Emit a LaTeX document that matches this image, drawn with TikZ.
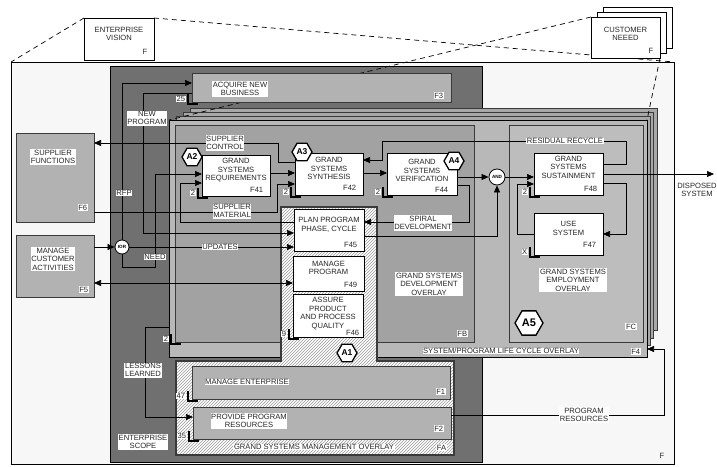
\documentclass[tikz,border=0pt]{standalone}
\usepackage{fontspec}
\setmainfont{Liberation Sans}
\usetikzlibrary{arrows.meta,shapes.geometric,patterns,positioning}
\definecolor{ScopeGray}{HTML}{707070}
\definecolor{StripeGray}{HTML}{B2B2B2}
\definecolor{LayerGray}{HTML}{A8A8A8}
\definecolor{LifeGray}{HTML}{B8B8B8}
\definecolor{DevGray}{HTML}{A2A2A2}
\definecolor{UseGray}{HTML}{BDBDBD}
\definecolor{FrameGray}{HTML}{F7F7F7}
\definecolor{EdgeGray}{HTML}{3A3A3A}
\newcommand{\txtsize}{\fontsize{7.6}{8.5}\selectfont}
\tikzset{
  corner/.style={draw, anchor=north west, inner sep=0pt, outer sep=0pt},
  wbox/.style={corner, fill=white, line width=0.8pt},
  sbox/.style={corner, fill=StripeGray, draw=EdgeGray, line width=0.8pt},
  lbl/.style={fill=white, inner sep=0.6pt, align=center, font=\txtsize, text=black!85},
  fno/.style={lbl, anchor=south east},
  hexa/.style={regular polygon, regular polygon sides=6, draw, line width=1.3pt, fill=white,
    inner sep=0pt, minimum size=20pt, font=\bfseries\fontsize{8.5}{8.5}\selectfont},
  junc/.style={circle, draw, fill=white, inner sep=0pt, line width=0.8pt,
    font=\bfseries\fontsize{4.6}{5}\selectfont},
  flow/.style={draw, line width=0.7pt},
  arr/.style={flow, -{Triangle[length=7pt,width=6pt]}},
  darr/.style={flow, {Triangle[length=7pt,width=6pt]}-{Triangle[length=7pt,width=6pt]}},
  vis/.style={dash pattern=on 5pt off 4pt, line width=0.7pt},
}
\newcommand{\cornermark}[2]{%
  \draw[line width=1.4pt] ([xshift=-4pt,yshift=8pt]#1.south west) |- ([xshift=6pt,yshift=-2pt]#1.south west);
  \node[lbl, anchor=east] (#1mark) at ([xshift=-6pt,yshift=3pt]#1.south west) {#2};}
\begin{document}
\begin{tikzpicture}[x=1pt,y=-1pt]
\useasboundingbox (0,0) rectangle (717,466);
% outer frame, vision and need
\node[corner, fill=FrameGray, line width=0.7pt, minimum width=663pt, minimum height=402pt] (F) at (11,62) {};
\node[lbl, fill=none] (Fno) at (662,456) {F};
\node[wbox, line width=0.7pt, minimum width=70pt, minimum height=42pt] (EV) at (84,18) {};
\node[lbl, anchor=north] (EVlab) at ([yshift=-8pt]EV.north) {ENTERPRISE\\VISION};
\node[fno] (EVno) at ([xshift=-6pt,yshift=5pt]EV.south east) {F};
\draw[vis] (EV.north west) -- (F.north west);
\draw[vis] (EV.north east) -- (F.north east);
\node[wbox, line width=0.7pt, minimum width=69pt, minimum height=41pt] (CN3) at (603,7) {};
\node[wbox, line width=0.7pt, minimum width=69pt, minimum height=41pt] (CN2) at (597,12) {};
\node[wbox, line width=0.7pt, minimum width=69pt, minimum height=41pt] (CN) at (591,17) {};
\node[lbl, anchor=north] (CNlab) at ([yshift=-9pt]CN.north) {CUSTOMER\\NEEED};
\node[fno] (CNno) at ([xshift=-6pt,yshift=4pt]CN.south east) {F};
% enterprise scope
\node[corner, fill=ScopeGray, line width=0.8pt, minimum width=372pt, minimum height=396pt] (ES) at (110,66) {};
% life cycle layers
\node[corner, fill=LayerGray, draw=EdgeGray, line width=0.7pt, minimum width=467pt, minimum height=222pt] (F4c) at (190,108) {};
\node[corner, fill=LayerGray, draw=EdgeGray, line width=0.7pt, minimum width=470pt, minimum height=226pt] (F4b) at (183,112) {};
\node[corner, fill=LayerGray, draw=EdgeGray, line width=0.7pt, minimum width=474pt, minimum height=229pt] (F4a) at (176,116) {};
\node[corner, fill=LifeGray, draw=black, line width=0.8pt, minimum width=478pt, minimum height=237pt] (F4) at (169,120) {};
\draw[vis] (CN.north west) -- (F4.north west);
\draw[vis] (CN.south east) -- (F4.north east);
\node[lbl] (F4lab) at (501,351) {SYSTEM/PROGRAM LIFE CYCLE OVERLAY};
\node[fno] (F4no) at ([xshift=-6pt,yshift=2pt]F4.south east) {F4};
\node[corner, fill=DevGray, draw=EdgeGray, line width=0.8pt, minimum width=299pt, minimum height=217pt] (FB) at (175,125) {};
\node[corner, fill=UseGray, draw=EdgeGray, line width=0.8pt, minimum width=134pt, minimum height=217pt] (FC) at (509,125) {};
\node[lbl] (FBlab) at (429,284) {GRAND SYSTEMS\\DEVELOPMENT\\OVERLAY};
\node[fno] (FBno) at ([xshift=-6pt,yshift=5pt]FB.south east) {FB};
\node[lbl] (FClab) at (573,280) {GRAND SYSTEMS\\EMPLOYMENT\\OVERLAY};
\node[fno] (FCno) at ([xshift=-6pt,yshift=12pt]FC.south east) {FC};
\cornermark{FB}{2}
% acquire new business
\node[sbox, minimum width=259pt, minimum height=29pt] (F3) at (192,73) {};
\node[lbl] (F3lab) at (240,89) {ACQUIRE NEW\\BUSINESS};
\node[fno] (F3no) at ([xshift=-7pt,yshift=3pt]F3.south east) {F3};
\cornermark{F3}{25}
% management overlay
\draw[draw=EdgeGray, line width=1.2pt, preaction={fill=white}, pattern=north east lines, pattern color=black!40]
  (281,207) -- (377,207) -- (377,361) -- (454,361) -- (454,455) -- (176,455) -- (176,361) -- (281,361) -- cycle;
\node[sbox, minimum width=258pt, minimum height=33pt] (F1) at (192,366) {};
\node[lbl] (F1lab) at (247,382) {MANAGE ENTERPRISE};
\node[fno] (F1no) at ([xshift=-4pt,yshift=4pt]F1.south east) {F1};
\cornermark{F1}{47}
\node[sbox, minimum width=258pt, minimum height=32pt] (F2) at (193,407) {};
\node[lbl] (F2lab) at (249,421) {PROVIDE PROGRAM\\RESOURCES};
\node[fno] (F2no) at ([xshift=-7pt,yshift=7pt]F2.south east) {F2};
\cornermark{F2}{35}
\node[lbl] (FAlab) at (314,447) {GRAND SYSTEMS MANAGEMENT OVERLAY};
\node[fno] (FAno) at (447,451) {FA};
% outside functions
\node[sbox, minimum width=78pt, minimum height=89pt] (F6) at (16,133) {};
\node[lbl] (F6lab) at (53,157) {SUPPLIER\\FUNCTIONS};
\node[fno] (F6no) at ([xshift=-6pt,yshift=11pt]F6.south east) {F6};
\node[sbox, minimum width=78pt, minimum height=62pt] (F5) at (16,235) {};
\node[lbl] (F5lab) at (53,259) {MANAGE\\CUSTOMER\\ACTIVITIES};
\node[fno] (F5no) at ([xshift=-5pt,yshift=4pt]F5.south east) {F5};
% activity boxes
\node[wbox, minimum width=68pt, minimum height=41pt] (F41) at (202,155) {};
\node[lbl, anchor=north] (F41lab) at ([yshift=-2.5pt]F41.north) {GRAND\\SYSTEMS\\REQUIREMENTS};
\node[fno] (F41no) at ([xshift=-6pt,yshift=3pt]F41.south east) {F41};
\cornermark{F41}{2}
\node[wbox, minimum width=68pt, minimum height=42pt] (F42) at (295,153) {};
\node[lbl, anchor=north] (F42lab) at ([yshift=-3.5pt]F42.north) {GRAND\\SYSTEMS\\SYNTHESIS};
\node[fno] (F42no) at ([xshift=-6pt,yshift=4pt]F42.south east) {F42};
\cornermark{F42}{2}
\node[wbox, minimum width=70pt, minimum height=42pt] (F44) at (387,153) {};
\node[lbl, anchor=north] (F44lab) at ([yshift=-5.5pt]F44.north) {GRAND\\SYSTEMS\\VERIFICATION};
\node[fno] (F44no) at ([xshift=-8pt,yshift=2pt]F44.south east) {F44};
\cornermark{F44}{2}
\node[wbox, minimum width=70pt, minimum height=42pt] (F45) at (294,209) {};
\node[lbl, anchor=north] (F45lab) at ([yshift=-7.5pt]F45.north) {PLAN PROGRAM\\PHASE, CYCLE};
\node[fno] (F45no) at ([xshift=-6pt,yshift=3pt]F45.south east) {F45};
\node[wbox, minimum width=71pt, minimum height=35pt] (F49) at (293,256) {};
\node[lbl, anchor=north] (F49lab) at ([yshift=-4pt]F49.north) {MANAGE\\PROGRAM};
\node[fno] (F49no) at ([xshift=-6pt,yshift=3pt]F49.south east) {F49};
\node[wbox, minimum width=70pt, minimum height=43pt] (F46) at (293,294) {};
\node[lbl, anchor=north] (F46lab) at ([yshift=-2.5pt]F46.north) {ASSURE\\PRODUCT\\AND PROCESS\\QUALITY};
\node[fno] (F46no) at ([xshift=-3pt,yshift=1pt]F46.south east) {F46};
\cornermark{F46}{9}
\node[wbox, minimum width=69pt, minimum height=42pt] (F48) at (534,153) {};
\node[lbl, anchor=north] (F48lab) at ([yshift=-2pt]F48.north) {GRAND\\SYSTEMS\\SUSTAINMENT};
\node[fno] (F48no) at ([xshift=-5pt,yshift=3pt]F48.south east) {F48};
\cornermark{F48}{2}
\node[wbox, minimum width=69pt, minimum height=42pt] (F47) at (534,213) {};
\node[lbl, anchor=north] (F47lab) at ([yshift=-7.5pt]F47.north) {USE\\SYSTEM};
\node[fno] (F47no) at ([xshift=-6pt,yshift=7pt]F47.south east) {F47};
\cornermark{F47}{X}
% junctions and tags
\node[junc, minimum size=14pt] (IOR) at (122,247) {IOR};
\node[junc, minimum size=16pt] (AND) at (497,177) {AND};
\node[hexa] (A2) at (192,157) {A2};
\node[hexa] (A3) at (302,152) {A3};
\node[hexa] (A4) at (454,161) {A4};
\node[hexa] (A1) at (347,353) {A1};
\node[hexa, minimum size=28pt, font=\bfseries\fontsize{11}{11}\selectfont] (A5) at (529,323) {A5};
% flows
\draw[arr] (F5.east |- IOR.west) -- (IOR.west);
\draw[arr] (IOR.north) |- (F3.west |- 0,83);
\draw[arr] (F3.west |- 0,93) -| (143,233) -- (F45.west |- 0,233);
\draw[arr] (IOR.south) |- (155,267) |- (F41.west |- 0,174);
\draw[arr] (IOR.east) -- (F45.west |- IOR.east);
\draw[darr] (F5.east |- 0,283) -- (F49.west |- 0,283);
\draw[arr] (F42.west |- 0,162) -| (278,143) -- (F6.east |- 0,143);
\draw[arr] (F6.east |- 0,212) -| (277,184) -- (F42.west |- 0,184);
\draw[arr] (F41.east |- 0,173) -- (F42.west |- 0,173);
\draw[arr] (F45.west |- 0,222) -| (180,183) -- (F41.west |- 0,183);
\draw[arr] (F42.east |- 0,173) -- (F44.west |- 0,173);
\draw[arr] (F44.east |- AND.west) -- (AND.west);
\draw[arr] (F44.east |- 0,185) -| (469,222) -- (F45.east |- 0,222);
\draw[arr] (F45.east |- 0,236) -| (AND.south);
\draw[arr] (AND.east) -- (F48.west |- AND.east);
\draw[arr] (F48.east |- 0,164) -| (626,141) -| (382,160) -- (F42.east |- 0,160);
\coordinate (DSend) at (714,174);
\draw[arr] (F48.east |- DSend) -- (DSend);
\draw[arr] (F48.east |- 0,183) -| (626,234) -- (F47.east |- 0,234);
\draw[arr] (F47.west |- 0,234) -| (517,184) -- (F48.west |- 0,184);
\draw[arr] (F4.west |- 0,327) -| (145,417) -- (F2.west |- 0,417);
\draw[arr] (F2.east |- 0,415) -| (664,349) -- (F4.east |- 0,349);
% flow labels
\node[lbl] (RFPlab) at (124,193) {RFP};
\node[lbl] (NPlab) at (147,118) {NEW\\PROGRAM};
\node[lbl] (NEEDlab) at (155,257) {NEED};
\node[lbl] (UPlab) at (220,247) {UPDATES};
\node[lbl] (SClab) at (225,143) {SUPPLIER\\CONTROL};
\node[lbl] (SMlab) at (232,211) {SUPPLIER\\MATERIAL};
\node[lbl] (SDlab) at (423,223) {SPIRAL\\DEVELOPMENT};
\node[lbl] (RRlab) at (565,141) {RESIDUAL RECYCLE};
\node[lbl, fill=none] (DSlab) at (697,190) {DISPOSED\\SYSTEM};
\node[lbl] (LLlab) at (143,370) {LESSONS\\LEARNED};
\node[lbl] (PRlab) at (584,415) {PROGRAM\\RESOURCES};
\node[lbl] (ESlab) at (143,442) {ENTERPRISE\\SCOPE};
\end{tikzpicture}
\end{document}
